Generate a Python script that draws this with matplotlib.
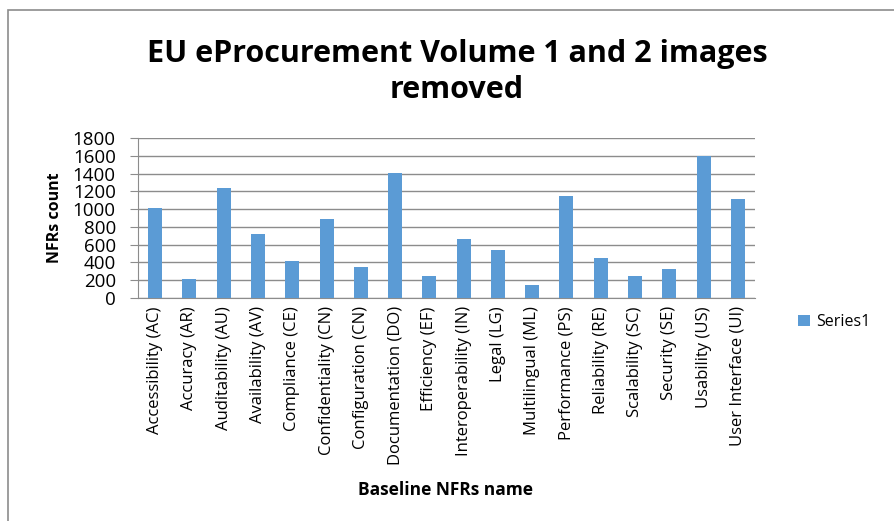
import matplotlib
matplotlib.use("Agg")
import matplotlib.pyplot as plt
from matplotlib.patches import Rectangle

categories = ["Accessibility (AC)", "Accuracy (AR)", "Auditability (AU)", "Availability (AV)",
              "Compliance (CE)", "Confidentiality (CN)", "Configuration (CN)", "Documentation (DO)",
              "Efficiency (EF)", "Interoperability (IN)", "Legal (LG)", "Multilingual (ML)",
              "Performance (PS)", "Reliability (RE)", "Scalability (SC)", "Security (SE)",
              "Usability (US)", "User Interface (UI)"]
values = [1015, 210, 1240, 720, 420, 892, 352, 1403, 251, 667, 544, 146,
          1147, 454, 251, 330, 1594, 1117]
yticks = [0, 200, 400, 600, 800, 1000, 1200, 1400, 1600, 1800]

plt.rcParams['font.family'] = ['Open Sans', 'DejaVu Sans']

W, H = 895, 521
fig = plt.figure(figsize=(W/100, H/100), dpi=100)
fig.patches.append(Rectangle((8/W, -0.1), 1.0, 1 - 10/H + 0.1, transform=fig.transFigure,
                             fill=False, edgecolor='#8c8c8c', linewidth=1.2))

ax = fig.add_axes([138/W, 1 - 298/H, (755-138)/W, (298-138)/H])
x = range(len(categories))
ax.bar(x, values, width=0.41, color='#5B9BD5', label='Series1', zorder=3)
ax.set_xlim(-0.5, len(categories) - 0.5)
ax.set_ylim(0, 1800)
ax.set_yticks(yticks)
ax.set_yticklabels([str(v) for v in yticks], fontsize=13.5)
ax.set_xticks(list(x))
ax.set_xticklabels(categories, rotation=90, fontsize=12)
ax.tick_params(axis='x', length=0, pad=6)
ax.tick_params(axis='y', length=6, color='#8c8c8c', pad=10)
ax.grid(axis='y', color='#8c8c8c', linewidth=1, zorder=0)
for s in ['top', 'right']:
    ax.spines[s].set_visible(False)
ax.spines['left'].set_color('#8c8c8c')
ax.spines['bottom'].set_color('#8c8c8c')

fig.text(457/W, 1 - 72/H, "EU eProcurement Volume 1 and 2 images\nremoved", ha='center', va='center',
         fontsize=22, fontweight='bold', linespacing=1.3)
fig.text(55/W, 1 - 218/H, "NFRs count", rotation=90, ha='center', va='center', fontsize=11.5, fontweight='bold')
fig.text(446/W, 1 - 490/H, "Baseline NFRs name", ha='center', va='center', fontsize=12.5, fontweight='bold')

ax.legend(loc='center left', bbox_to_anchor=(784/W, 1 - 322/H), bbox_transform=fig.transFigure,
          frameon=False, fontsize=11.5, handlelength=0.7, handleheight=0.7, handletextpad=0.4)

fig.savefig("out.png", dpi=100)
